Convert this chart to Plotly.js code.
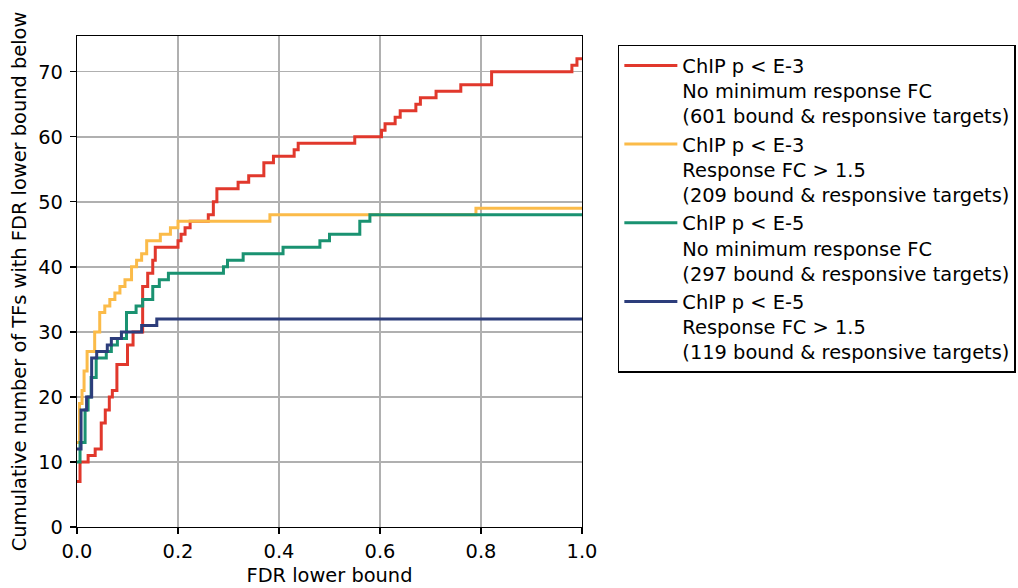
<!DOCTYPE html>
<html>
<head>
<meta charset="utf-8">
<script src="https://cdn.plot.ly/plotly-3.0.1.min.js"></script>
<style>html,body{margin:0;padding:0;background:#fff;}#chart{width:1018px;height:588px;}</style>
</head>
<body>
<div id="chart"></div>
<script>
// Series: FDR lower bound breakpoints (x) and cumulative TF counts (y)
const redX = [0, 0.006, 0.022, 0.036, 0.048, 0.056, 0.064, 0.07, 0.079, 0.1, 0.111, 0.13, 0.14, 0.15, 0.155, 0.2, 0.206, 0.214, 0.224, 0.26, 0.27, 0.277, 0.319, 0.34, 0.37, 0.389, 0.43, 0.438, 0.55, 0.603, 0.61, 0.63, 0.64, 0.671, 0.68, 0.711, 0.76, 0.821, 0.98, 0.99, 1.0];
const redY = [7, 10, 11, 12, 16, 18, 20, 21, 25, 28, 30, 37, 39, 41, 43, 44, 45, 46, 47, 48, 50, 52, 53, 54, 56, 57, 58, 59, 60, 61, 62, 63, 64, 65, 66, 67, 68, 70, 71, 72, 72];

const yellowX = [0, 0.005, 0.01, 0.014, 0.02, 0.035, 0.045, 0.055, 0.065, 0.075, 0.085, 0.095, 0.108, 0.118, 0.128, 0.138, 0.165, 0.185, 0.2, 0.382, 0.79, 1.0];
const yellowY = [13, 19, 21, 24, 27, 30, 33, 34, 35, 36, 37, 38, 40, 41, 42, 44, 45, 46, 47, 48, 49, 49];

const greenX = [0, 0.006, 0.016, 0.022, 0.028, 0.038, 0.058, 0.068, 0.08, 0.098, 0.117, 0.13, 0.15, 0.163, 0.181, 0.29, 0.298, 0.329, 0.408, 0.481, 0.5, 0.56, 0.58, 1.0];
const greenY = [10, 13, 18, 20, 23, 26, 27, 28, 29, 33, 34, 35, 37, 38, 39, 40, 41, 42, 43, 44, 45, 47, 48, 48];

const blueX = [0, 0.008, 0.019, 0.029, 0.039, 0.06, 0.068, 0.088, 0.128, 0.158, 1.0];
const blueY = [12, 18, 20, 26, 27, 28, 29, 30, 31, 32, 32];

const seriesNames = [
  "ChIP p &lt; E-3<br>No minimum response FC<br>(601 bound &amp; responsive targets)",
  "ChIP p &lt; E-3<br>Response FC &gt; 1.5<br>(209 bound &amp; responsive targets)",
  "ChIP p &lt; E-5<br>No minimum response FC<br>(297 bound &amp; responsive targets)",
  "ChIP p &lt; E-5<br>Response FC &gt; 1.5<br>(119 bound &amp; responsive targets)"
];
const seriesColors = ["#e1382c", "#fbbb49", "#1a9271", "#2c3d7b"];

const xTickVals = [0, 0.2, 0.4, 0.6, 0.8, 1.0];
const xTickText = ["0.0", "0.2", "0.4", "0.6", "0.8", "1.0"];
const yTickVals = [0, 10, 20, 30, 40, 50, 60, 70];

const xs = [redX, yellowX, greenX, blueX];
const ys = [redY, yellowY, greenY, blueY];

const FONT = "DejaVu Sans, Liberation Sans, sans-serif";
const FS = 19.4;

const traces = xs.map((x, i) => ({
  x: x, y: ys[i], type: "scatter", mode: "lines",
  line: {shape: "hv", color: seriesColors[i], width: 3},
  name: seriesNames[i], legendgroup: "g" + i, hoverinfo: "skip"
}));

const axisCommon = {
  showline: true, mirror: true, linecolor: "#000", linewidth: 1.3,
  ticks: "outside", ticklen: 6, tickwidth: 1.3, tickcolor: "#000",
  showgrid: true, gridcolor: "#b0b0b0", gridwidth: 1.4,
  zeroline: false, tickfont: {family: FONT, size: FS, color: "#000"}
};

const layout = {
  width: 1018, height: 588,
  margin: {l: 77, r: 436, t: 36, b: 61, autoexpand: false},
  paper_bgcolor: "#fff", plot_bgcolor: "#fff",
  font: {family: FONT, size: FS, color: "#000"},
  xaxis: Object.assign({}, axisCommon, {
    range: [0, 1], tickvals: xTickVals, ticktext: xTickText, automargin: false,
    title: {text: "FDR lower bound", font: {family: FONT, size: FS}, standoff: 6}
  }),
  yaxis: Object.assign({}, axisCommon, {
    range: [0, 75.5], tickvals: yTickVals, automargin: false, ticklabelstandoff: 3,
    title: {text: "Cumulative number of TFs with FDR lower bound below", font: {family: FONT, size: FS}, standoff: 6}
  }),
  showlegend: true,
  legend: {
    x: 1.071, y: 0.982, xanchor: "left", yanchor: "top",
    bordercolor: "#000", borderwidth: 1.5, bgcolor: "#fff",
    font: {family: FONT, size: FS, color: "#000"},
    tracegroupgap: 6, valign: "top", traceorder: "normal", itemwidth: 53
  }
};

Plotly.newPlot("chart", traces, layout, {staticPlot: true, displayModeBar: false});
</script>
</body>
</html>
